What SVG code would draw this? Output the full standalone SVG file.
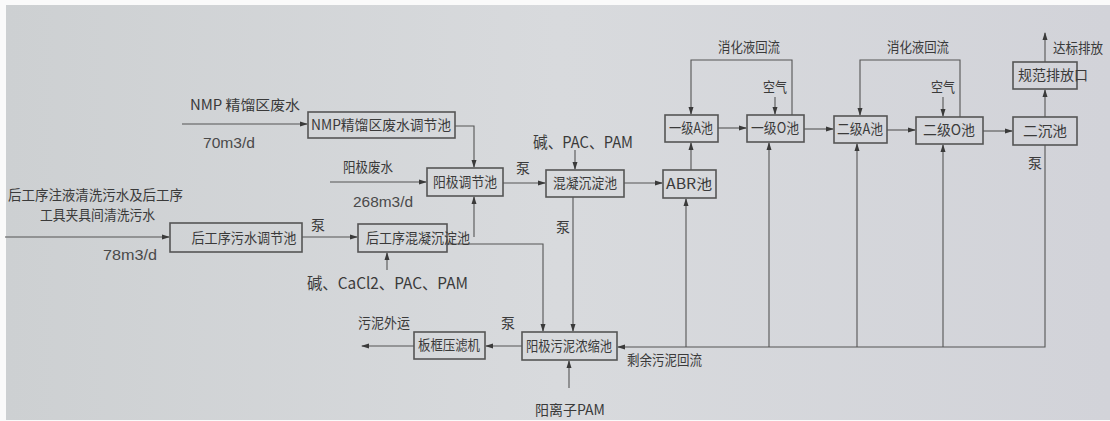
<svg xmlns="http://www.w3.org/2000/svg" width="1110" height="421" viewBox="0 0 1110 421">
<defs>
<linearGradient id="bg" x1="0" y1="0" x2="1" y2="0">
<stop offset="0" stop-color="#cdd0d2"/>
<stop offset="0.5" stop-color="#d8dadd"/>
<stop offset="1" stop-color="#d2d3d9"/>
</linearGradient>
<marker id="ah" markerWidth="8" markerHeight="6" refX="7" refY="3" orient="auto" markerUnits="userSpaceOnUse">
<path d="M0,0.5 L8,3 L0,5.5 Z" fill="#3a3a3a"/>
</marker>
<style>
.box{fill:none;stroke:#555;stroke-width:1.6}
.ln{fill:none;stroke:#555;stroke-width:1.1}
.ar{marker-end:url(#ah)}
text{font-family:"Noto Sans CJK SC","Liberation Sans",sans-serif;fill:#3a3a3a;font-size:14px}
.c{text-anchor:middle}
.lt{font-family:"Liberation Sans","Noto Sans CJK SC",sans-serif;fill:#4a4a4a}
</style>
</defs>
<rect width="1110" height="421" fill="#fafafa"/>
<rect x="6" y="5" width="1104" height="415" fill="url(#bg)"/>

<g id="connectors">
<path class="ln ar" d="M182,124 H307"/>
<path class="ln ar" d="M455,126 H474 V167"/>
<path class="ln ar" d="M330,182 H426"/>
<path class="ln ar" d="M5,237 H169"/>
<path class="ln ar" d="M302,237 H357"/>
<path class="ln ar" d="M474,237 V197"/>
<path class="ln ar" d="M447,244 H543 V331"/>
<path class="ln ar" d="M387,270 V253"/>
<path class="ln ar" d="M503,183 H545"/>
<path class="ln ar" d="M575,150 V169"/>
<path class="ln ar" d="M624,183 H662"/>
<path class="ln ar" d="M573,197 V331"/>
<path class="ln ar" d="M691,170 V143"/>
<path class="ln ar" d="M718,128 H746"/>
<path class="ln ar" d="M804,129 H833"/>
<path class="ln ar" d="M887,130 H915"/>
<path class="ln ar" d="M983,131 H1012"/>
<path class="ln ar" d="M1045,117 V90"/>
<path class="ln ar" d="M1045,62 V33"/>
<path class="ln ar" d="M792,115 V60 H691 V114"/>
<path class="ln ar" d="M960,117 V60 H860 V115"/>
<path class="ln ar" d="M775,97 V114"/>
<path class="ln ar" d="M943,97 V116"/>
<path class="ln ar" d="M1045,145 V347 H618"/>
<path class="ln ar" d="M686,347 V199"/>
<path class="ln ar" d="M769,347 V143"/>
<path class="ln ar" d="M857,347 V144"/>
<path class="ln ar" d="M943,347 V145"/>
<path class="ln ar" d="M522,346 H486"/>
<path class="ln ar" d="M414,346 H362"/>
<path class="ln ar" d="M569,388 V361"/>
</g>

<g id="n-nmp-tank"><rect class="box" x="308" y="112" width="147" height="26"/><text x="381" y="130" class="c" textLength="140" lengthAdjust="spacingAndGlyphs">NMP精馏区废水调节池</text></g>
<g id="n-anode-tank"><rect class="box" x="427" y="168" width="76" height="28"/><text x="465" y="187" class="c" textLength="64" lengthAdjust="spacingAndGlyphs">阳极调节池</text></g>
<g id="n-post-tank"><rect class="box" x="170" y="223" width="132" height="29"/><text x="244" y="243" class="c" textLength="105" lengthAdjust="spacingAndGlyphs">后工序污水调节池</text></g>
<g id="n-post-coag"><rect class="box" x="358" y="224" width="89" height="28"/><text x="366" y="243" textLength="104" lengthAdjust="spacingAndGlyphs">后工序混凝沉淀池</text></g>
<g id="n-coag"><rect class="box" x="546" y="170" width="78" height="27"/><text x="585" y="188" class="c" textLength="64" lengthAdjust="spacingAndGlyphs">混凝沉淀池</text></g>
<g id="n-abr"><rect class="box" x="663" y="170" width="53" height="28"/><text x="689" y="189" class="c" textLength="46" lengthAdjust="spacingAndGlyphs">ABR池</text></g>
<g id="n-a1"><rect class="box" x="665" y="115" width="53" height="27"/><text x="691" y="133" class="c" textLength="44" lengthAdjust="spacingAndGlyphs">一级A池</text></g>
<g id="n-o1"><rect class="box" x="747" y="115" width="57" height="27"/><text x="775" y="133" class="c" textLength="48" lengthAdjust="spacingAndGlyphs">一级O池</text></g>
<g id="n-a2"><rect class="box" x="834" y="116" width="53" height="27"/><text x="860" y="134" class="c" textLength="46" lengthAdjust="spacingAndGlyphs">二级A池</text></g>
<g id="n-o2"><rect class="box" x="916" y="117" width="67" height="27"/><text x="949" y="135" class="c" textLength="52" lengthAdjust="spacingAndGlyphs">二级O池</text></g>
<g id="n-sed2"><rect class="box" x="1013" y="117" width="64" height="28"/><text x="1045" y="136" class="c" textLength="44" lengthAdjust="spacingAndGlyphs">二沉池</text></g>
<g id="n-outlet"><rect class="box" x="1013" y="62" width="64" height="27"/><text x="1018" y="80" textLength="70" lengthAdjust="spacingAndGlyphs">规范排放口</text></g>
<g id="n-thick"><rect class="box" x="522" y="332" width="95" height="28"/><text x="569" y="351" class="c" textLength="86" lengthAdjust="spacingAndGlyphs">阳极污泥浓缩池</text></g>
<g id="n-press"><rect class="box" x="414" y="332" width="71" height="27"/><text x="449" y="350" class="c" textLength="62" lengthAdjust="spacingAndGlyphs">板框压滤机</text></g>

<g id="labels">
<text x="190" y="110" textLength="110" lengthAdjust="spacingAndGlyphs">NMP 精馏区废水</text>
<text x="203" y="148" class="lt" textLength="52" lengthAdjust="spacingAndGlyphs">70m3/d</text>
<text x="343" y="172" textLength="50" lengthAdjust="spacingAndGlyphs">阳极废水</text>
<text x="353" y="207" class="lt" textLength="60" lengthAdjust="spacingAndGlyphs">268m3/d</text>
<text x="8" y="200" textLength="175" lengthAdjust="spacingAndGlyphs">后工序注液清洗污水及后工序</text>
<text x="40" y="220" textLength="115" lengthAdjust="spacingAndGlyphs">工具夹具间清洗污水</text>
<text x="103" y="260" class="lt" textLength="54" lengthAdjust="spacingAndGlyphs">78m3/d</text>
<text x="318" y="230" class="c">泵</text>
<text x="523" y="173" class="c">泵</text>
<text x="563" y="232" class="c">泵</text>
<text x="1035" y="168" class="c">泵</text>
<text x="508" y="328" class="c">泵</text>
<text x="307" y="289" style="font-size:16px" textLength="161" lengthAdjust="spacingAndGlyphs">碱、CaCl2、PAC、PAM</text>
<text x="533" y="148" style="font-size:16px" textLength="100" lengthAdjust="spacingAndGlyphs">碱、PAC、PAM</text>
<text x="718" y="52" textLength="62" lengthAdjust="spacingAndGlyphs">消化液回流</text>
<text x="887" y="52" textLength="62" lengthAdjust="spacingAndGlyphs">消化液回流</text>
<text x="775" y="92" class="c" textLength="24" lengthAdjust="spacingAndGlyphs">空气</text>
<text x="943" y="92" class="c" textLength="24" lengthAdjust="spacingAndGlyphs">空气</text>
<text x="1053" y="53" textLength="50" lengthAdjust="spacingAndGlyphs">达标排放</text>
<text x="627" y="365" textLength="75" lengthAdjust="spacingAndGlyphs">剩余污泥回流</text>
<text x="358" y="328" textLength="52" lengthAdjust="spacingAndGlyphs">污泥外运</text>
<text x="535" y="415" textLength="70" lengthAdjust="spacingAndGlyphs">阳离子PAM</text>
</g>
</svg>
